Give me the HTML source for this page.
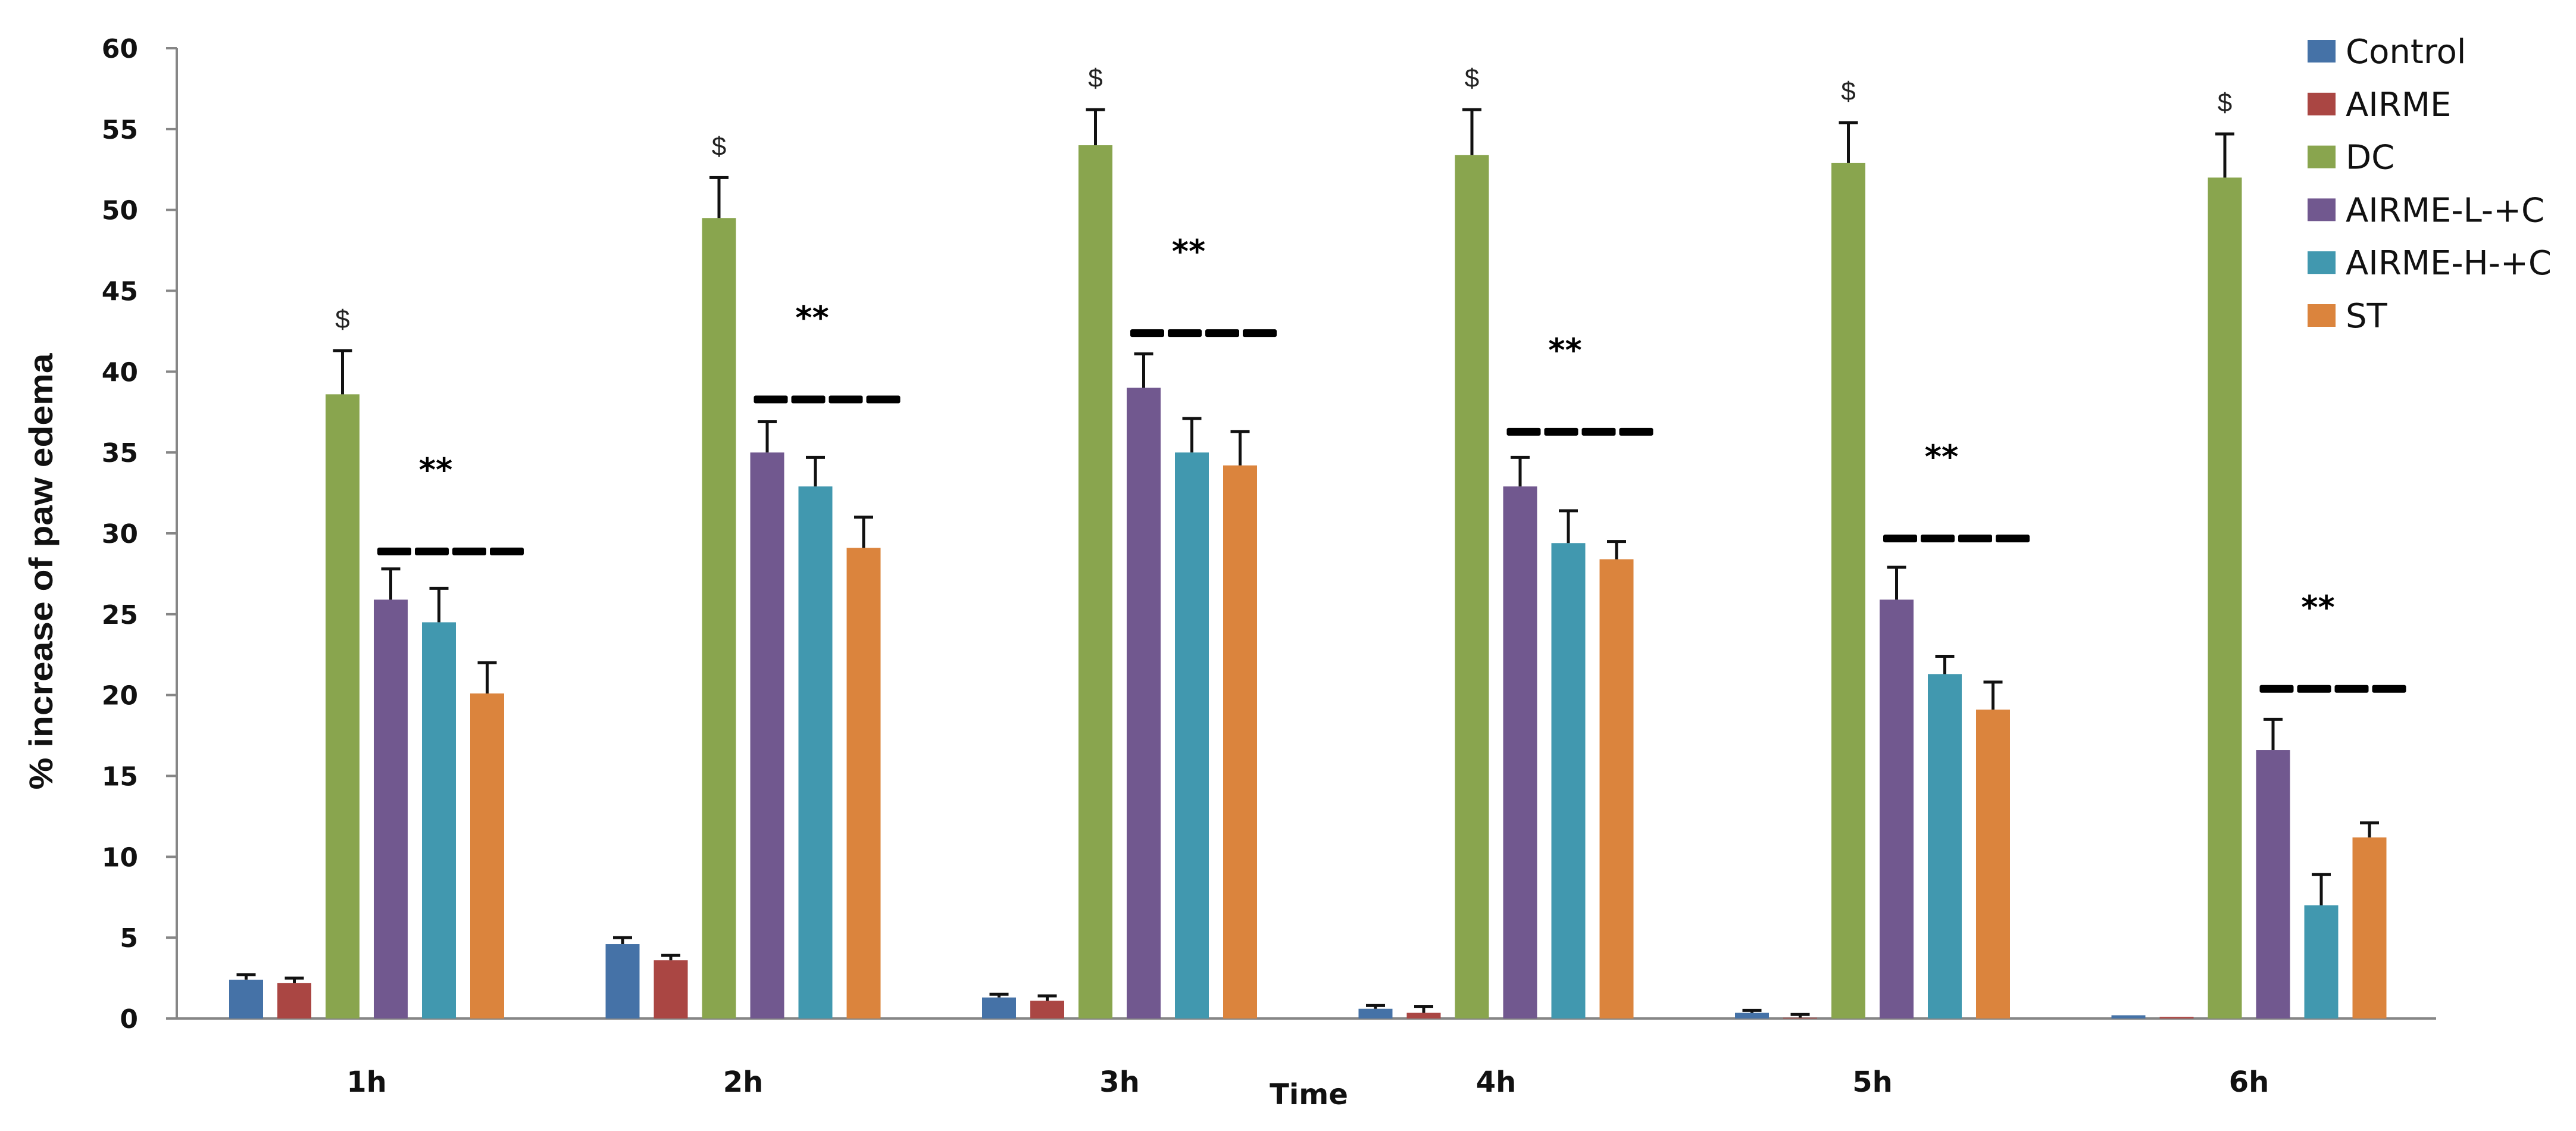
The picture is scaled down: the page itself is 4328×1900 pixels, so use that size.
<!DOCTYPE html>
<html><head><meta charset="utf-8"><style>
html,body{margin:0;padding:0;background:#fff;}
svg{display:block;}
</style></head><body>
<svg id="chart" width="4328" height="1900" viewBox="0 0 4328 1900" xmlns="http://www.w3.org/2000/svg">
<g id="axes"></g>
<g id="bars"></g>
<g id="annots"></g>
<g id="legend"></g>
<text transform="translate(88,960) rotate(-90)" text-anchor="middle" font-family="Liberation Sans, sans-serif" font-size="56" font-weight="bold" fill="#111" textLength="733" lengthAdjust="spacingAndGlyphs">% increase of paw edema</text>
<text x="2199" y="1855" text-anchor="middle" font-family="DejaVu Sans, sans-serif" font-size="48" font-weight="bold" fill="#111">Time</text>
</svg>
<script>
const categories = ["1h","2h","3h","4h","5h","6h"];
const seriesNames = ["Control","AIRME","DC","AIRME-L-+C","AIRME-H-+C","ST"];
const control = [2.4,4.6,1.3,0.6,0.35,0.2];
const controlErr = [0.3,0.4,0.2,0.2,0.15,0.0];
const airme = [2.2,3.6,1.1,0.35,0.05,0.1];
const airmeErr = [0.3,0.3,0.3,0.4,0.2,0.0];
const dc = [38.6,49.5,54.0,53.4,52.9,52.0];
const dcErr = [2.7,2.5,2.2,2.8,2.5,2.7];
const airmeL = [25.9,35.0,39.0,32.9,25.9,16.6];
const airmeLErr = [1.9,1.9,2.1,1.8,2.0,1.9];
const airmeH = [24.5,32.9,35.0,29.4,21.3,7.0];
const airmeHErr = [2.1,1.8,2.1,2.0,1.1,1.9];
const st = [20.1,29.1,34.2,28.4,19.1,11.2];
const stErr = [1.9,1.9,2.1,1.1,1.7,0.9];
const sigLevels = [28.9,38.3,42.4,36.3,29.7,20.4];
const yTicks = [0,5,10,15,20,25,30,35,40,45,50,55,60];

const colors = ["#4572A7","#AA4643","#89A54E","#71588F","#4198AF","#DB843D"];
const series = [control,airme,dc,airmeL,airmeH,st];
const errs = [controlErr,airmeErr,dcErr,airmeLErr,airmeHErr,stErr];
const NS = "http://www.w3.org/2000/svg";
const X0 = 297, X1 = 4093, Y0 = 1711, Y60 = 81, YMAX = 60;
const groupW = 632.5, firstCenter = 616, slot = 81, barW = 57;
function yScale(v){ return Y0 - (v/YMAX)*(Y0-Y60); }
function groupCenter(i){ return firstCenter + i*groupW; }
function xBar(i,k){ return groupCenter(i) + (k-2.5)*slot; }
function mk(tag, attrs, parent){ const e=document.createElementNS(NS,tag); for(const a in attrs) e.setAttribute(a,attrs[a]); parent.appendChild(e); return e; }

const axes = document.getElementById('axes');
yTicks.forEach(t=>{
  const y = yScale(t);
  const tk = mk('line',{x1:X0-18,x2:X0,y1:y,y2:y,stroke:'#868686','stroke-width':4},axes);
  
  
  const lb = mk('text',{x:232,y:y+16,'text-anchor':'end','font-family':'DejaVu Sans, sans-serif','font-size':44,'font-weight':'bold',fill:'#111'},axes);
  lb.textContent = t;
  
  
});
const ya = mk('line',{x1:X0,x2:X0,y1:Y60,y2:Y0,stroke:'#868686','stroke-width':4},axes);


const xa = mk('line',{x1:X0-18,x2:X1,y1:Y0,y2:Y0,stroke:'#868686','stroke-width':4},axes);


categories.forEach((c,i)=>{
  const t = mk('text',{x:groupCenter(i),y:1834,'text-anchor':'middle','font-family':'DejaVu Sans, sans-serif','font-size':48,'font-weight':'bold',fill:'#111'},axes);
  t.textContent = c;
  
  
});

const bars = document.getElementById('bars');
series.forEach((vals,k)=>{
  vals.forEach((v,i)=>{
    const cx = xBar(i,k);
    const yt = yScale(v);
    const r = mk('rect',{x:cx-barW/2,y:yt,width:barW,height:Math.max(0,Y0-yt),fill:colors[k]},bars);
    
    
    const e = errs[k][i];
    if(e>0){
      const ye = yScale(v+e);
      const l = mk('path',{d:`M${cx} ${yt} V${ye} M${cx-16} ${ye} H${cx+16}`,stroke:'#111','stroke-width':5,fill:'none'},bars);
      
      
    }
  });
});

const an = document.getElementById('annots');
dc.forEach((v,i)=>{
  const ye = yScale(v+dcErr[i]);
  const t = mk('text',{x:xBar(i,2),y:ye-38,'text-anchor':'middle','font-family':'Liberation Sans, sans-serif','font-size':44,fill:'#222'},an);
  t.textContent = '$';
  
  
});
sigLevels.forEach((lv,i)=>{
  const y = yScale(lv);
  const c = groupCenter(i);
  const x0 = c + 18;
  for(let d=0; d<4; d++){
    const r = mk('rect',{x:x0+d*63,y:y-6,width:57,height:13,rx:3,fill:'#000'},an);
    
    
  }
  const s = mk('text',{x:c+116,y:y-118,'text-anchor':'middle','font-family':'DejaVu Sans, sans-serif','font-size':54,'font-weight':'bold',fill:'#000'},an);
  s.textContent = '**';
  
  
});

const lg = document.getElementById('legend');
seriesNames.forEach((n,k)=>{
  const y = 86 + k*88.8;
  const sw = mk('rect',{x:3877,y:y-19,width:47,height:38,fill:colors[k]},lg);
  
  
  const t = mk('text',{x:3941,y:y+20,'font-family':'DejaVu Sans, sans-serif','font-size':56,fill:'#111'},lg);
  t.textContent = n;
  
  
});
</script>
</body></html>
